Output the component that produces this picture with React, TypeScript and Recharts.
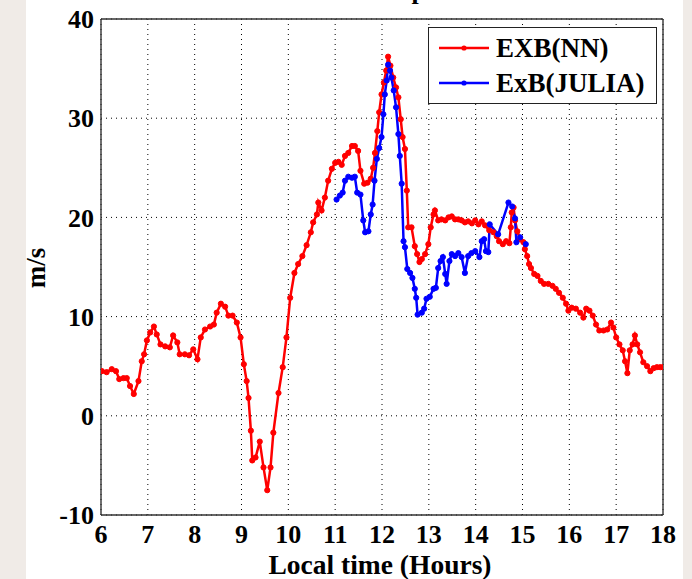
import React from 'react';
import { LineChart, Line, XAxis, YAxis, CartesianGrid, Legend, Label } from 'recharts';

const FONT = '"Liberation Serif", "Times New Roman", Times, serif';

// Hour ticks on the time axis and m/s ticks on the value axis
const hourTicks = [6, 7, 8, 9, 10, 11, 12, 13, 14, 15, 16, 17, 18];
const speedTicks = [-10, 0, 10, 20, 30, 40];

// EXB(NN): local time (hours) and drift (m/s)
const nnTime = [
  6.02, 6.12, 6.23, 6.32, 6.39, 6.48, 6.55, 6.62, 6.7, 6.8, 6.87, 6.92, 6.98, 7.05, 7.13, 7.19,
  7.27, 7.37, 7.47, 7.54, 7.63, 7.68, 7.79, 7.88, 7.97, 8.06, 8.13, 8.22, 8.33, 8.41, 8.47, 8.56,
  8.65, 8.72, 8.81, 8.9, 8.98, 9.05, 9.11, 9.15, 9.2, 9.23, 9.3, 9.39, 9.47, 9.55, 9.62, 9.68,
  9.79, 9.88, 9.96, 10.04, 10.13, 10.21, 10.3, 10.39, 10.48, 10.53, 10.61, 10.64, 10.71, 10.78,
  10.85, 10.93, 11.0, 11.07, 11.14, 11.21, 11.28, 11.36, 11.42, 11.49, 11.54, 11.62, 11.69, 11.76,
  11.81, 11.85, 11.9, 11.94, 11.99, 12.04, 12.09, 12.13, 12.18, 12.24, 12.3, 12.35, 12.4, 12.44,
  12.49, 12.53, 12.56, 12.63, 12.7, 12.75, 12.8, 12.85, 12.92, 12.99, 13.04, 13.1, 13.13, 13.2,
  13.27, 13.35, 13.42, 13.49, 13.56, 13.63, 13.7, 13.77, 13.84, 13.92, 13.99, 14.06, 14.13, 14.2,
  14.29, 14.38, 14.45, 14.5, 14.58, 14.65, 14.72, 14.75, 14.77, 14.81, 14.84, 14.89, 14.95, 15.02,
  15.05, 15.1, 15.14, 15.18, 15.25, 15.32, 15.39, 15.46, 15.55, 15.64, 15.71, 15.78, 15.86, 15.93,
  15.98, 16.05, 16.14, 16.23, 16.3, 16.36, 16.43, 16.5, 16.57, 16.64, 16.73, 16.81, 16.89, 16.94,
  17.0, 17.07, 17.14, 17.19, 17.24, 17.29, 17.35, 17.4, 17.45, 17.51, 17.58, 17.66, 17.73, 17.8,
  17.87, 17.94, 18.0,
];
const nnDrift = [
  4.5, 4.4, 4.7, 4.5, 3.7, 3.8, 3.8, 3.0, 2.2, 3.5, 5.5, 6.2, 7.6, 8.4, 9.0, 8.2,
  7.2, 7.0, 6.9, 8.1, 7.4, 6.2, 6.2, 6.1, 6.7, 5.7, 7.9, 8.7, 9.0, 9.2, 10.4, 11.3,
  11.0, 10.1, 10.1, 9.4, 7.9, 5.2, 3.5, 1.8, -1.5, -4.5, -4.2, -2.6, -5.2, -7.5, -5.2, -1.7,
  2.3, 4.9, 7.9, 11.9, 14.4, 15.3, 16.1, 17.2, 18.5, 19.5, 20.3, 21.5, 20.7, 22.0,
  23.7, 24.9, 25.5, 25.6, 25.3, 26.2, 26.5, 27.2, 27.2, 26.7, 24.7, 23.4, 23.5, 23.9,
  25.0, 26.5, 28.7, 30.6, 32.4, 33.6, 34.8, 36.2, 35.3, 34.1, 33.1, 32.1, 29.9, 28.1,
  26.9, 22.7, 19.0, 19.0, 17.1, 16.3, 15.5, 15.8, 16.3, 17.3, 19.0, 20.3, 20.7, 19.7,
  19.8, 19.7, 20.0, 20.1, 19.8, 19.8, 19.7, 19.5, 19.6, 19.4, 19.7, 19.3, 19.6, 19.2,
  18.7, 18.5, 18.1, 17.6, 17.3, 17.6, 17.4, 19.0, 20.5, 21.0, 19.7, 18.6, 17.8, 17.5,
  16.8, 16.1, 15.3, 14.9, 14.3, 14.1, 13.6, 13.3, 13.3, 13.1, 12.8, 12.4, 11.9, 11.3,
  10.6, 10.9, 10.8, 10.4, 9.9, 10.8, 10.6, 10.1, 9.2, 8.6, 8.6, 8.7, 9.4, 8.9,
  7.9, 7.2, 6.6, 5.5, 4.3, 6.6, 7.2, 8.1, 7.2, 6.4, 5.4, 5.0, 4.5, 4.8,
  4.9, 4.9, 4.9,
];

// ExB(JULIA): local time (hours) and drift (m/s)
const juliaTime = [
  11.03, 11.1, 11.16, 11.21, 11.28, 11.36, 11.42, 11.47, 11.54, 11.6, 11.64, 11.71, 11.76, 11.8,
  11.84, 11.89, 11.94, 11.99, 12.03, 12.06, 12.1, 12.13, 12.17, 12.2, 12.25, 12.3, 12.35, 12.38,
  12.42, 12.46, 12.49, 12.54, 12.6, 12.65, 12.7, 12.73, 12.76, 12.85, 12.9, 12.95, 13.02, 13.1,
  13.15, 13.2, 13.25, 13.3, 13.35, 13.38, 13.44, 13.49, 13.56, 13.63, 13.7, 13.77, 13.84, 13.91,
  13.99, 14.08, 14.13, 14.18, 14.22, 14.27, 14.3, 14.48, 14.7, 14.78, 14.84, 14.87, 14.95, 15.07,
];
const juliaDrift = [
  21.8, 22.2, 22.5, 23.7, 24.1, 24.0, 24.1, 22.5, 22.3, 19.7, 18.5, 18.6, 20.3, 21.3,
  23.7, 25.9, 27.0, 28.1, 30.4, 32.4, 33.8, 35.4, 34.8, 34.1, 32.8, 31.1, 28.4, 26.2,
  23.4, 17.6, 17.0, 14.8, 14.4, 13.9, 12.8, 11.9, 10.2, 10.4, 10.8, 11.8, 12.0, 12.8,
  12.9, 14.9, 15.6, 16.0, 14.3, 13.3, 15.6, 16.3, 16.1, 16.4, 16.0, 14.4, 16.1, 16.4,
  16.6, 16.0, 17.6, 17.8, 16.6, 16.5, 19.3, 18.3, 21.5, 21.1, 19.9, 17.5, 18.0, 17.3,
];

const seriesNames = ['EXB(NN)', 'ExB(JULIA)'];
const seriesColors = ['#ff0000', '#0000ff'];

const nnData = nnTime.map((t, i) => ({ t, v: nnDrift[i] }));
const juliaData = juliaTime.map((t, i) => ({ t, v: juliaDrift[i] }));

const AXIS_COLOR = '#333';
const tickFont = { fill: '#000', fontSize: 26, fontWeight: 700, fontFamily: FONT };

const LegendBox = () => (
  <div
    style={{
      width: 229,
      height: 77,
      boxSizing: 'border-box',
      border: '1.3px solid #222',
      background: '#fff',
      paddingTop: 2,
    }}
  >
    {seriesNames.map((name, i) => (
      <div key={name} style={{ display: 'flex', alignItems: 'center', height: 35 }}>
        <svg width={67} height={12} style={{ flex: 'none' }}>
          <line x1={10} y1={6} x2={60} y2={6} stroke={seriesColors[i]} strokeWidth={2.4} />
          <circle cx={35} cy={6} r={2.6} fill={seriesColors[i]} />
        </svg>
        <span
          style={{
            fontFamily: FONT,
            fontWeight: 700,
            fontSize: 27,
            color: '#000',
            lineHeight: '30px',
            whiteSpace: 'nowrap',
          }}
        >
          {name}
        </span>
      </div>
    ))}
  </div>
);

export default function App() {
  return (
    <div
      style={{
        position: 'absolute',
        left: 0,
        top: 0,
        width: 692,
        height: 579,
        background: '#f0ebe7',
        overflow: 'hidden',
      }}
    >
      <div style={{ position: 'absolute', left: 26, top: 0, width: 657, height: 579, background: '#fff' }} />
      <div style={{ position: 'absolute', left: 0, top: 0 }}>
        <LineChart width={692} height={579} margin={{ top: 19, right: 29, bottom: 0, left: 41 }}>
          <CartesianGrid stroke="#000" strokeDasharray="1 4" strokeWidth={1} />
          <XAxis
            dataKey="t"
            type="number"
            domain={[6, 18]}
            ticks={hourTicks}
            interval={0}
            allowDataOverflow
            height={64}
            tickLine={false}
            tickSize={5}
            tickMargin={5}
            axisLine={{ stroke: AXIS_COLOR, strokeWidth: 1.4 }}
            tick={tickFont}
          >
            <Label
              content={({ viewBox }: any) => (
                <text
                  x={viewBox.x + viewBox.width / 2 - 2}
                  y={viewBox.y + 59}
                  textAnchor="middle"
                  fontFamily={FONT}
                  fontWeight={700}
                  fontSize={27.5}
                  fill="#000"
                >
                  Local time (Hours)
                </text>
              )}
            />
          </XAxis>
          <XAxis
            xAxisId="bottomTicks"
            type="number"
            orientation="bottom"
            mirror
            domain={[6, 18]}
            ticks={hourTicks}
            interval={0}
            allowDataOverflow
            tick={false}
            tickSize={6}
            tickLine={{ stroke: AXIS_COLOR, strokeWidth: 1.2 }}
            axisLine={false}
          />
          <XAxis
            xAxisId="top"
            type="number"
            orientation="top"
            mirror
            domain={[6, 18]}
            ticks={hourTicks}
            interval={0}
            allowDataOverflow
            tick={false}
            tickSize={6}
            tickLine={{ stroke: AXIS_COLOR, strokeWidth: 1.2 }}
            axisLine={{ stroke: AXIS_COLOR, strokeWidth: 1.4 }}
          >
            <Label
              content={() => (
                <text
                  x={355}
                  y={-1.5}
                  textAnchor="middle"
                  fontFamily={FONT}
                  fontWeight={700}
                  fontSize={26}
                  fill="#000"
                >
                  Vertical drift comparison
                </text>
              )}
            />
          </XAxis>
          <YAxis
            type="number"
            domain={[-10, 40]}
            ticks={speedTicks}
            interval={0}
            allowDataOverflow
            width={60}
            tickLine={false}
            tickSize={2}
            tickMargin={5}
            axisLine={{ stroke: AXIS_COLOR, strokeWidth: 1.4 }}
            tick={tickFont}
          >
            <Label
              content={({ viewBox }: any) => {
                const x = viewBox.x + 4;
                const y = viewBox.y + viewBox.height / 2 + 1;
                return (
                  <text
                    x={x}
                    y={y}
                    transform={`rotate(-90, ${x}, ${y})`}
                    textAnchor="middle"
                    fontFamily={FONT}
                    fontWeight={700}
                    fontSize={27}
                    fill="#000"
                  >
                    m/s
                  </text>
                );
              }}
            />
          </YAxis>
          <YAxis
            yAxisId="leftTicks"
            type="number"
            orientation="left"
            mirror
            domain={[-10, 40]}
            ticks={speedTicks}
            interval={0}
            allowDataOverflow
            tick={false}
            tickSize={6}
            tickLine={{ stroke: AXIS_COLOR, strokeWidth: 1.2 }}
            axisLine={false}
          />
          <YAxis
            yAxisId="right"
            type="number"
            orientation="right"
            mirror
            domain={[-10, 40]}
            ticks={speedTicks}
            interval={0}
            allowDataOverflow
            tick={false}
            tickSize={6}
            tickLine={{ stroke: AXIS_COLOR, strokeWidth: 1.2 }}
            axisLine={{ stroke: AXIS_COLOR, strokeWidth: 1.4 }}
          />
          <Legend
            layout="vertical"
            align="center"
            verticalAlign="middle"
            content={() => <LegendBox />}
            wrapperStyle={{ left: 428, top: 27, width: 229, height: 77 }}
          />
          <Line
            data={nnData}
            dataKey="v"
            name={seriesNames[0]}
            type="linear"
            stroke={seriesColors[0]}
            strokeWidth={2.5}
            dot={{ r: 2.6, fill: seriesColors[0], stroke: seriesColors[0], strokeWidth: 1 }}
            activeDot={false}
            isAnimationActive={false}
          />
          <Line
            data={juliaData}
            dataKey="v"
            name={seriesNames[1]}
            type="linear"
            stroke={seriesColors[1]}
            strokeWidth={2.5}
            dot={{ r: 2.6, fill: seriesColors[1], stroke: seriesColors[1], strokeWidth: 1 }}
            activeDot={false}
            isAnimationActive={false}
          />
        </LineChart>
      </div>
    </div>
  );
}
